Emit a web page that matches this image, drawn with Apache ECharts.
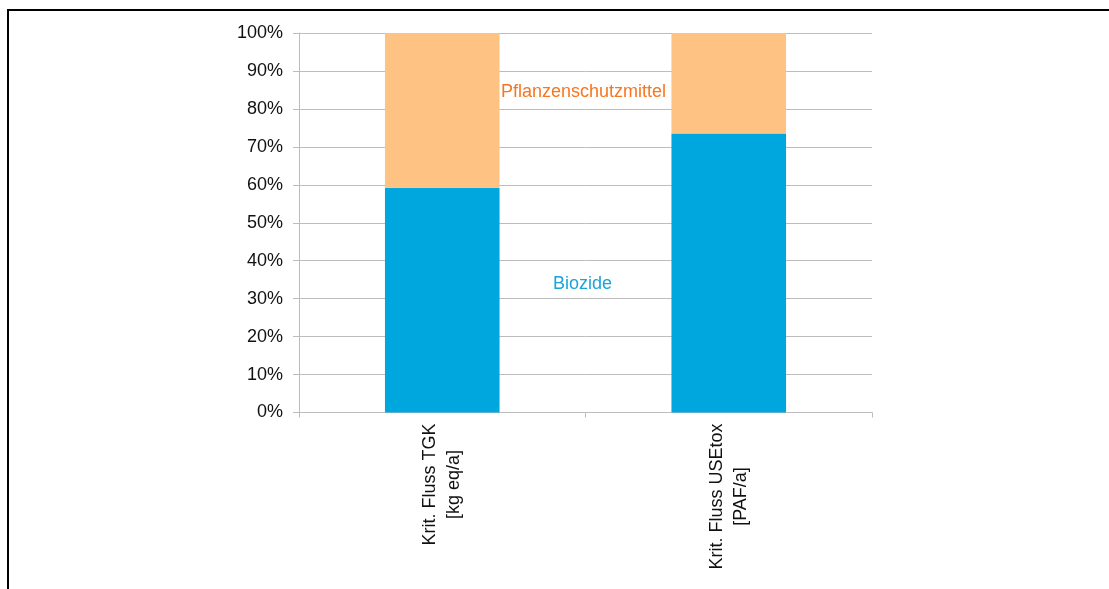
<!DOCTYPE html>
<html>
<head>
<meta charset="utf-8">
<script src="https://cdn.jsdelivr.net/npm/echarts@6/dist/echarts.min.js"></script>
<style>
  html, body { margin: 0; padding: 0; background: #fff; }
  #chart { width: 1109px; height: 589px; }
</style>
</head>
<body>
<div id="chart"></div>
<script>
// Categories (two-line labels) and shares in percent
const categories = ['Krit. Fluss TGK\n[kg eq/a]', 'Krit. Fluss USEtox\n[PAF/a]'];
const biozide = [59.2, 73.5];
const pflanzenschutzmittel = [40.8, 26.5];
const yTicks = { min: 0, max: 100, interval: 10 };

const FONT = 'Liberation Sans, Arial, Helvetica, sans-serif';
const chart = echarts.init(document.getElementById('chart'));

chart.setOption({
  animation: false,
  grid: { left: 299, right: 237, top: 33, bottom: 176.5, containLabel: false },
  xAxis: {
    type: 'category',
    data: categories,
    axisLine: { lineStyle: { color: '#BDBDBD', width: 1 } },
    axisTick: { show: true, length: 5, lineStyle: { color: '#BDBDBD' } },
    axisLabel: {
      rotate: 90,
      margin: 11,
      color: '#111',
      fontFamily: FONT,
      fontSize: 18,
      lineHeight: 24,
      formatter: function (v) {
        return v.split('\n').map(function (s) { return '{c|' + s + '}'; }).join('\n');
      },
      rich: { c: { align: 'center', fontFamily: FONT, fontSize: 18, lineHeight: 24, color: '#111' } }
    }
  },
  yAxis: {
    type: 'value',
    min: yTicks.min,
    max: yTicks.max,
    interval: yTicks.interval,
    axisLine: { show: true, lineStyle: { color: '#BDBDBD', width: 1 } },
    axisTick: { show: true, length: 6, lineStyle: { color: '#BDBDBD' } },
    splitLine: { lineStyle: { color: '#BDBDBD', width: 1 } },
    axisLabel: {
      formatter: '{value}%',
      margin: 16,
      color: '#111',
      fontFamily: FONT,
      fontSize: 18
    }
  },
  series: [
    {
      name: 'Biozide',
      type: 'bar',
      stack: 'total',
      data: biozide,
      barWidth: '40%',
      itemStyle: { color: '#00A6DE' }
    },
    {
      name: 'Pflanzenschutzmittel',
      type: 'bar',
      stack: 'total',
      data: pflanzenschutzmittel,
      barWidth: '40%',
      itemStyle: { color: '#FEC282' }
    }
  ],
  graphic: [
    // frame lines along the top and left edge
    { type: 'line', shape: { x1: 8, y1: 10, x2: 1109, y2: 10 }, style: { stroke: '#000', lineWidth: 2 }, z: 10 },
    { type: 'line', shape: { x1: 8, y1: 9, x2: 8, y2: 589 }, style: { stroke: '#000', lineWidth: 2 }, z: 10 },
    // series names
    {
      type: 'text', left: 501, top: 83, z: 10,
      style: { text: 'Pflanzenschutzmittel', fill: '#F7761F', font: '18px ' + FONT }
    },
    {
      type: 'text', left: 553, top: 275, z: 10,
      style: { text: 'Biozide', fill: '#1BA3DC', font: '18px ' + FONT }
    }
  ]
});
</script>
</body>
</html>
